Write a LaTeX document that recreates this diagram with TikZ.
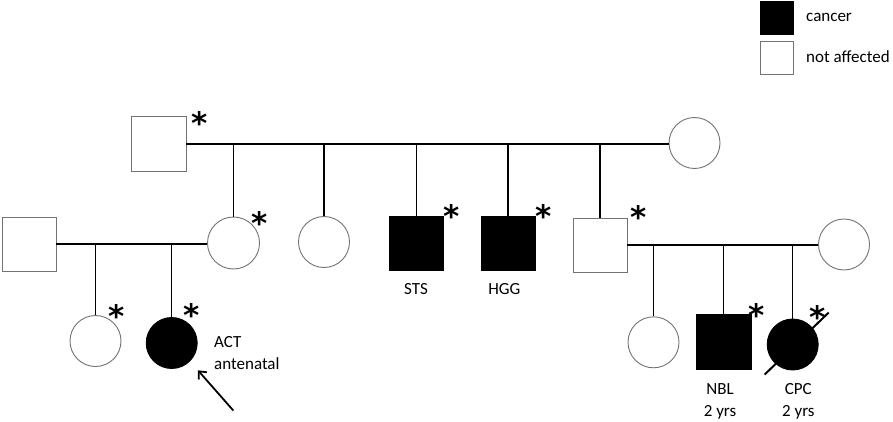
\documentclass[tikz,border=0pt]{standalone}
\usepackage{fontspec}
\setmainfont{Carlito}
\newfontfamily\astfont{DejaVu Sans}
\usepackage{tikz}
\usetikzlibrary{arrows.meta}

\begin{document}
\begin{tikzpicture}[x=1pt,y=-1pt,
	sq/.style={draw=black!55, line width=0.9pt, minimum size=54pt, inner sep=0pt, fill=white},
	ci/.style={circle, draw=black!55, line width=0.9pt, minimum size=51pt, inner sep=0pt, fill=white},
	aff/.style={fill=black, draw=black},
	mline/.style={line width=1.6pt},
	dline/.style={line width=1.2pt},
	lab/.style={inner sep=0pt, font=\fontsize{17}{21.5}\selectfont},
	ast/.style={inner sep=0pt, font=\astfont\bfseries\fontsize{31}{31}\selectfont}]
	\useasboundingbox (0,0) rectangle (893,422);
	
	% legend
	\node[sq, aff, minimum size=33pt] (kc) at (777,18) {};
	\node[sq, minimum size=33pt] (kn) at (777,58) {};
	\node[lab, anchor=west] (kct) at (806,17.3) {cancer};
	\node[lab, anchor=west] (knt) at (806,57) {not affected};
	
	% first generation
	\node[sq, minimum size=55pt] (gf) at (158.5,144) {};
	\node[ci] (gm) at (694.5,143) {};
	
	% second generation
	\node[sq] (lh) at (29,244) {};
	\node[ci, minimum size=52pt] (d1) at (233.5,243) {};
	\node[ci] (d2) at (324,242) {};
	\node[sq, aff] (sts) at (416.5,243.5) {};
	\node[sq, aff] (hgg) at (508,243.5) {};
	\node[sq] (s1) at (600,245) {};
	\node[ci] (sw) at (844,244.5) {};
	
	% third generation
	\node[ci] (c1) at (95.5,341) {};
	\node[ci, aff] (act) at (171.7,343) {};
	\node[ci] (c2) at (653.5,342.3) {};
	\node[sq, aff, minimum size=55pt] (nbl) at (723.7,342) {};
	\node[ci, aff] (cpc) at (792.7,344.5) {};
	
	% couples
	\draw[mline] (gf.east) -- (gf.east -| gm.west);
	\draw[mline] (lh.east) -- (lh.east -| d1.west);
	\draw[mline] (s1.east) -- (s1.east -| sw.west);
	
	% children
	\foreach \k in {d1,d2,sts,hgg,s1}
		\draw[dline] (\k.north |- gf.east) -- (\k.north);
	\foreach \k in {c1,act}
		\draw[dline] (\k.north |- lh.east) -- (\k.north);
	\foreach \k in {c2,nbl,cpc}
		\draw[dline] (\k.north |- s1.east) -- (\k.north);
	
	% deceased
	\draw[line width=2pt] (cpc.center) ++(-28,30) -- ++(64,-62);
	
	% labels
	\node[lab] (tsts) at (416,289) {STS};
	\node[lab] (thgg) at (504.3,288.7) {HGG};
	\node[lab, anchor=west, align=left] (tact) at (214,353) {ACT\\antenatal};
	\node[lab, align=center] (tnbl) at (720,401.5) {NBL\\2 yrs};
	\node[lab, align=center] (tcpc) at (798.3,401.5) {CPC\\2 yrs};
	
	% tested
	\foreach \x/\y [count=\i] in {199.5/118, 259.7/217.7, 451.7/211, 543.3/210.7, 638.7/212, 756.7/310, 817.7/311.7, 116.3/310.7, 191.7/310}
		\node[ast] (as\i) at (\x,\y+5) {*};
	
	% proband
	\coordinate (prb) at (233.3,410.5);
	\draw[line width=1.8pt, -{Straight Barb[length=6pt,width=11pt]}, shorten >=12pt] (prb) -- (act.south east);
\end{tikzpicture}
\end{document}
